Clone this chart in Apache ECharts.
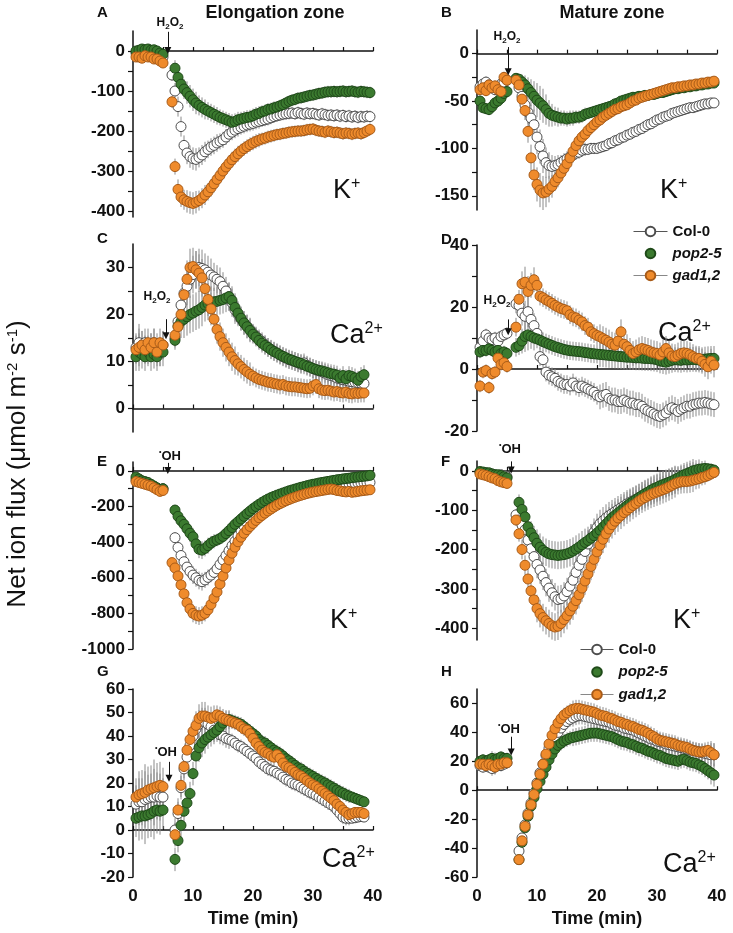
<!DOCTYPE html>
<html><head><meta charset="utf-8">
<script src="https://cdn.jsdelivr.net/npm/echarts@6/dist/echarts.min.js"></script>
<style>html,body{margin:0;padding:0;background:#fff}#c{width:733px;height:933px}</style>
</head><body><div id="c"></div>
<script>
// ---------- time axis (min) ----------
const minutes = [0.5,1,1.5,2,2.5,3,3.5,4,4.5,5,
 6.5,7,7.5,8,8.5,9,9.5,10,10.5,11,11.5,12,12.5,13,13.5,14,14.5,15,15.5,16,16.5,17,17.5,18,18.5,19,19.5,20,20.5,21,21.5,22,22.5,23,23.5,24,24.5,25,25.5,26,26.5,27,27.5,28,28.5,29,29.5,30,30.5,31,31.5,32,32.5,33,33.5,34,34.5,35,35.5,36,36.5,37,37.5,38,38.5,39,39.5];
const seriesNames = ['Col-0','pop2-5','gad1,2'];

// ---------- A: elongation zone, K+, H2O2 ----------
const A_col = [-5,-3,0,2,0,-3,-5,-8,-12,-15,
 -60,-100,-139,-189,-236,-255,-264,-269,-271,-266,-260,-252,-246,-240,-236,-230,-226,-222,-215,-208,-203,-198,-194,-191,-188,-185,-183,-181,-178,-176,-174,-172,-170,-167,-164,-162,-160,-158,-157,-156,-155,-157,-154,-156,-158,-155,-157,-156,-158,-160,-157,-159,-161,-160,-162,-160,-163,-161,-164,-162,-165,-163,-166,-164,-165,-163,-164];
const A_pop = [0,2,5,3,5,2,3,0,-5,-8,
 null,-43,-66,-83,-95,-104,-113,-122,-130,-136,-141,-146,-150,-154,-158,-162,-166,-169,-172,-175,-178,-176,-172,-170,-168,-166,-165,-162,-158,-156,-152,-150,-146,-145,-142,-140,-137,-134,-130,-126,-123,-121,-118,-117,-115,-113,-111,-110,-108,-106,-105,-103,-102,-102,-101,-102,-101,-100,-102,-101,-100,-102,-103,-101,-102,-103,-104];
const A_gad = [-15,-15,-18,-12,-15,-15,-20,-20,-25,-30,
 -127,-289,-346,-365,-372,-376,-379,-381,-378,-374,-368,-360,-352,-342,-332,-321,-311,-300,-290,-281,-272,-264,-257,-250,-244,-239,-234,-230,-226,-223,-220,-218,-215,-213,-211,-209,-208,-206,-205,-203,-202,-201,-200,-200,-199,-197,-196,-195,-198,-200,-201,-203,-200,-202,-204,-203,-205,-207,-205,-206,-208,-206,-205,-207,-204,-200,-196];
const A_err = [8,10,10,8,10,10,8,10,8,8,
 15,20,25,25,25,28,28,28,28,25,25,25,22,22,22,22,20,20,20,20,20,20,20,18,18,18,18,18,18,18,16,16,16,16,16,15,15,15,15,15,15,15,15,15,15,15,15,15,15,15,15,15,15,15,15,15,15,15,15,15,15,15,15,15,15,15,15];

// ---------- B: mature zone, K+, H2O2 ----------
const B_col = [-35,-32,-30,-33,-36,-38,-35,-32,-30,-28,
 null,-36,-45,-54,-62,-68,-75,-88,-98,-108,-115,-118,-119,-118,-117,-115,-113,-111,-109,-107,-105,-104,-102,-101,-101,-100,-100,-100,-99,-98,-97,-95,-94,-92,-91,-89,-88,-86,-85,-83,-82,-80,-79,-77,-75,-74,-72,-70,-69,-67,-66,-65,-63,-62,-61,-60,-59,-58,-57,-57,-56,-55,-54,-53,-53,-52,-52];
const B_pop = [-50,-57,-58,-59,-56,-52,-50,-47,-42,-40,
 -26,-27,-30,-33,-37,-41,-45,-49,-52,-55,-59,-63,-65,-66,-67,-68,-68,-69,-68,-68,-67,-67,-66,-64,-63,-62,-61,-60,-59,-58,-57,-56,-55,-53,-52,-50,-49,-48,-47,-46,-46,-45,-45,-44,-44,-43,-43,-42,-41,-41,-40,-39,-38,-37,-37,-36,-36,-35,-35,-34,-34,-33,-33,-32,-32,-31,-31];
const B_gad = [-38,-36,-39,-33,-36,-34,-38,-40,-25,-28,
 -28,-33,-48,-60,-82,-110,-128,-138,-144,-147,-146,-143,-140,-135,-131,-126,-121,-116,-110,-103,-97,-92,-88,-85,-81,-78,-75,-72,-70,-67,-65,-63,-61,-59,-58,-56,-55,-54,-52,-50,-49,-47,-46,-45,-44,-43,-42,-41,-40,-39,-38,-37,-36,-36,-35,-35,-34,-34,-33,-33,-32,-32,-31,-31,-30,-30,-29];
const B_err = [6,6,6,6,6,6,6,6,6,6,
 5,6,8,10,12,14,16,18,18,18,16,14,12,10,10,8,8,8,8,8,7,7,7,7,6,6,6,6,6,6,6,6,6,6,6,5,5,5,5,5,5,5,5,5,5,5,5,5,5,5,5,5,5,5,5,5,5,5,5,5,5,5,5,5,5,5,5];

// ---------- C: elongation zone, Ca2+, H2O2 ----------
const C_col = [13,14,13.5,14,12.5,13,14,13,12,13.5,
 null,15,18.5,22,24.5,26,27.5,28.5,29.5,30,29.8,29.5,29,28.4,28,27.5,27,26,25,23.8,22.5,21,20,19,18.2,17.5,16.8,16,15.4,14.8,14.2,13.6,13,12.6,12.2,11.8,11.4,11,10.7,10.4,10.2,10,9.7,9.4,9.7,9.2,8.8,8.5,8.2,8,7.8,7.5,7.2,7,6.8,6.5,6.3,6.1,6,5.8,5.7,5.6,5.5,5.4,5.3];
const C_pop = [11,12,11.5,11,12,11,11.5,11,12,12,
 null,14.5,17.5,18.5,19,19.5,20,20.3,20.7,21,21.5,22,22.3,22.5,22.7,22.8,23,23.2,23.5,23.8,23,21.5,20.3,19.2,18.2,17.4,16.6,15.8,15.2,14.5,13.9,13.4,13,12.5,12.1,11.8,11.4,11.1,10.8,10.5,10.3,10,9.8,9.6,9.3,9,8.8,8.5,8.3,8.1,8,7.8,7.6,7.4,7.3,7.1,6.5,7,6.3,7,6.8,6.5,6,6.8,7.2];
const C_gad = [12.5,13,13.5,12.5,14,13,14,12,14,13.5,
 null,15.6,17.4,20,24.2,27.5,30,30.2,29.5,28.8,27.8,25.5,23.2,21.2,19,16.8,15.3,14,13,12,11,10.2,9.5,8.9,8.3,7.8,7.3,6.9,6.5,6.2,6,5.8,5.6,5.5,5.3,5.2,5,5.1,4.8,4.7,4.6,4.6,4.5,4.4,4.3,4.2,4.3,4.8,5.1,4.2,3.9,3.8,3.9,3.7,3.5,3.6,3.4,3.3,3.5,3.2,3.1,3.3,3.2,3.3,3.3];
const C_err = [3,4,3,3,3,3,3,3,3,3,
 2,2,3,3.5,4,4,4,4,4,4,4,3.5,3.5,3.5,3,3,3,3,3,3,3,3,2.5,2.5,2.5,2.5,2.5,2,2,2,2,2,2,2,2,2,2,2,2,2,2,2,2,2,2,2,2,2,2,2,2,2,2,2,2,2,2,2,2,2,2,2,2,2,2];

// ---------- D: mature zone, Ca2+, H2O2 ----------
const D_col = [7,9,11,10,9.5,10,9,10.5,11,11.5,
 21,20.5,18,17,18.5,16,14,11.5,4,3,-1,-2,-2.5,-3,-4,-4.5,-5,-5,-5.5,-4.5,-5.5,-6,-5.5,-6,-6.5,-7,-7.5,-8.5,-9,-8.5,-8.2,-9.5,-10,-10,-10.5,-10.5,-10,-10.5,-11,-11,-11.5,-11.5,-12,-13,-13.5,-14,-14.5,-15,-15.3,-14.8,-14.2,-13,-12.5,-13,-13.7,-13,-12.5,-12,-12,-11.5,-11.3,-11,-11,-10.8,-11,-11.3,-11.5];
const D_pop = [5.5,6,6,6.5,6,5.5,6,5,5.5,5,
 7,7.5,9,10.5,11,10.5,10,9.7,9.3,8.8,8.4,8,7.6,7.2,6.9,6.6,6.3,6.1,5.9,5.8,5.7,5.6,5.5,5.3,5.2,5,4.9,4.8,4.7,4.6,4.5,4.4,4.3,4.2,4.1,4,3.9,3.8,3.8,3.7,3.6,3.6,3.5,3.4,3.4,3.3,3.2,3,2.6,2.4,2.2,2.5,2.8,3,2.9,2.8,3,2.9,3,3.1,3,2.9,3,3.2,3.3,3.4,3.4];
const D_gad = [-5.5,-1,-0.5,-6,-1.5,-1,3.5,1.5,2,0.8,
 13.5,22.5,27.5,28,25,27,28.8,27,23.5,23,22.3,21.8,21.2,20.5,20,19.5,19.2,18.8,17.5,16.8,16.5,15.8,15.2,14,13.5,12,11.4,10.8,10.4,9.8,9.3,8.7,8,7.7,9,12,8,7.2,6,5,5.5,6.2,6.6,6.3,6,5.5,5.2,5,4.5,5.5,6.6,5.2,4.2,4,4.5,5,5.2,5,4.6,4,3.5,3.4,2.5,1.5,0.7,2.5,1.3];
const D_err = [2,2,2,2,2,2,2,2,2,2,
 3,3,4,5,5,4,4,3,3,3,3,3,3,3,3,3,3,3,3,3,3,3,3,3,3,3,3,3,4,4,4,4,4,4,4,4,4,4,4,4,4,4,4,4,4,4,4,4,4,4,4,4,4,4,4,4,4,4,4,4,4,4,4,4,4,4,4];

// ---------- E: elongation zone, K+, .OH ----------
const E_col = [-50,-55,-60,-70,-75,-80,-90,-100,-105,-100,
 null,-375,-430,-475,-510,-540,-565,-585,-600,-615,-622,-612,-598,-585,-570,-550,-525,-500,-475,-448,-420,-395,-365,-335,-310,-290,-272,-257,-245,-233,-221,-208,-196,-184,-174,-163,-154,-146,-139,-132,-127,-122,-117,-112,-108,-104,-100,-96,-92,-88,-85,-82,-80,-78,-76,-75,-73,-72,-71,-70,-69,-68,-67,-66,-66,-65,-65];
const E_pop = [-35,-45,-55,-60,-65,-75,-85,-95,-105,-100,
 null,-220,-255,-280,-300,-325,-350,-370,-410,-440,-445,-435,-420,-405,-395,-388,-380,-368,-352,-336,-318,-300,-285,-270,-255,-240,-226,-212,-200,-188,-177,-167,-158,-150,-143,-136,-130,-124,-118,-112,-107,-102,-97,-92,-88,-83,-79,-75,-72,-68,-65,-62,-59,-56,-53,-50,-48,-45,-43,-41,-38,-36,-34,-32,-30,-28,-25];
const E_gad = [-60,-65,-70,-75,-80,-85,-95,-105,-115,-110,
 -515,-545,-590,-640,-690,-740,-775,-800,-810,-815,-810,-800,-780,-750,-715,-680,-635,-590,-545,-500,-462,-428,-398,-372,-350,-330,-312,-295,-278,-263,-250,-237,-225,-214,-203,-193,-184,-176,-168,-161,-154,-148,-142,-137,-132,-127,-123,-119,-116,-113,-110,-107,-104,-102,-105,-110,-112,-116,-118,-115,-120,-118,-115,-112,-110,-108,-106];
const E_err = [20,25,25,20,25,20,25,20,25,20,
 20,30,35,40,45,45,50,50,50,50,50,45,45,40,40,35,35,30,30,25,25,25,20,20,20,20,20,20,15,15,15,15,15,15,15,15,15,15,15,15,15,15,15,15,15,15,15,15,15,15,15,15,15,15,15,15,15,15,15,15,15,15,15,15,15,15,15];

// ---------- F: mature zone, K+, .OH ----------
const F_col = [-3,-5,-5,-8,-8,-10,-12,-10,-12,-15,
 -112,-125,-138,-150,-176,-198,-218,-238,-252,-268,-284,-298,-310,-320,-327,-325,-318,-307,-293,-278,-258,-240,-225,-205,-186,-170,-156,-144,-134,-127,-120,-114,-109,-104,-99,-94,-89,-84,-80,-76,-72,-68,-64,-60,-56,-52,-49,-45,-42,-37,-33,-30,-27,-24,-21,-18,-15,-12,-10,-8,-6,-5,-4,-3,-3,-3,-4];
const F_pop = [-2,-3,-5,-5,-8,-10,-10,-12,-15,-18,
 null,-80,-98,-117,-142,-158,-170,-184,-194,-202,-207,-211,-213,-214,-215,-214,-213,-211,-208,-204,-199,-194,-188,-182,-177,-171,-165,-158,-151,-143,-135,-127,-119,-113,-107,-101,-95,-89,-83,-78,-73,-68,-63,-58,-54,-49,-45,-42,-38,-35,-32,-29,-26,-22,-18,-14,-10,-7,-4,0,2,4,5,6,5,4,2];
const F_gad = [-8,-10,-12,-15,-18,-20,-25,-28,-30,-32,
 -125,-160,-200,-240,-275,-305,-328,-350,-363,-373,-381,-388,-394,-397,-395,-388,-378,-368,-356,-344,-330,-315,-298,-280,-262,-243,-225,-206,-189,-174,-160,-148,-137,-128,-120,-113,-106,-100,-94,-88,-83,-77,-72,-68,-64,-60,-57,-54,-51,-48,-45,-41,-37,-33,-30,-28,-27,-27,-26,-24,-22,-20,-17,-15,-12,-8,-4];
const F_err = [8,8,8,8,8,8,8,8,8,8,
 15,20,25,25,30,30,30,35,35,35,35,35,35,35,35,35,35,35,35,35,35,35,35,35,35,35,35,35,35,35,35,35,35,35,35,35,35,35,35,35,35,35,35,35,35,35,35,35,35,35,35,35,35,35,30,30,30,30,30,30,25,25,20,20,15,15,10];

// ---------- G: elongation zone, Ca2+, .OH ----------
const G_col = [11,12,12,13,13.5,14,14,14.5,14,14,
 null,0,7,18,26,31,36,40,43,45,46,46,45,44,42.5,41.5,40.5,40,39,38.5,38,37,36,35.5,34.5,33.5,32.5,31.5,30.5,29,28,27,26,25.5,25,24.2,23.5,22.5,21.5,21,20,19.5,19,18.2,17.5,16.8,16,15.5,14.8,14,13.2,12.4,11.6,10.8,10,8.5,7,5.5,5,5,5,5.2,5.5,5.7,5.5];
const G_pop = [5,5.5,6,6,6.5,7,8,8.5,8,8.5,
 null,-12.5,-4.5,2,8,11.5,15.5,24,31.5,35,37,38.5,39.5,40.5,41.5,42.5,44,45.5,46.5,47,46.5,46,45.5,45,44,43,42,41,40,38.5,37.5,37,36,35,34,33.3,32.5,31.5,30.3,29.5,28.5,27.5,26.5,26,25,24.2,23.5,22.8,22,21.3,20.6,20,19.2,18.5,17.8,17,16.3,15.7,15,14.5,14,13.5,13,12.5,12];
const G_gad = [14,15,15.5,16,17,17.5,18,18.5,19,18.5,
 null,-2,8.5,19,27,34,38.5,42,44.5,47.5,48.5,48.5,48,47.5,48,49,48.5,47.5,47,46.5,46,45.5,45,44,43,42.5,41,39,37,35.5,34,33,32.5,31.5,31,32,30.5,28.5,27,26.5,25.5,24.5,23.5,23,22,21,20,19.2,18.5,17.5,16.5,15.5,14.5,13.5,12.5,11,10,8.5,7.5,6.5,7,7.5,7.5,7.5,7];
const G_err = [8,10,10,12,10,10,12,10,10,8,
 5,5,5,5,5,5,5,5,6,6,6,6,5,5,5,4,4,4,4,4,3,3,3,3,3,3,3,3,3,3,3,3,3,3,3,3,3,3,3,3,3,3,3,3,3,3,3,3,3,3,3,3,3,3,3,3,3,3,3,3,2,2,2,2,2];

// ---------- H: mature zone, Ca2+, .OH ----------
const H_col = [17,16,17,16,15,16,17,17,18,19,
 null,-42,-33,-24,-16,-9,-2,5,12,18,24,29,33,37,40,43,45.5,47.5,49,50,51,51.5,51.5,51,50.5,50,49.5,49,48.5,48,47.5,47,46,45,44.5,44,43,42.5,42,41.5,40.5,39.5,38.5,37.5,36.5,35.5,35,34,33.5,33,32,31.5,31,30.5,30,29.5,29,28.5,28,27.5,27,26.5,26,25.5,25,24.5,24.5];
const H_pop = [20,21,20,21,22,21,22,23,22,22,
 null,-48,-36,-26,-18,-11,-5,1,6,11,16,21,25,28.5,31,32.5,34,35,36,36.5,37,37.5,38,38.5,39,39.5,39.5,39.5,39,38.5,38,37.5,37,36,35,34,33.5,33,32,31.5,30.5,29.5,29,28,27,26.5,25.5,24.5,24,23,22,21.5,21,20.5,20,21,21.5,20.5,19.5,19,18.5,17.5,16.5,15,13.5,12,10.5];
const H_gad = [18,18,17,18,17,16,18,18,19,19,
 null,-48,-35,-25,-17,-10,-3,4,11,18,25,32,38,42.5,46.5,49.5,52,53.5,55,56,56.5,56.5,56,55.5,55,54.5,54,53,52,51.5,51,50,49.5,48.5,47.5,47,46,45.5,44.5,44,43,42,41.5,40.5,39.5,38,37,35.5,34.5,34,33.5,33,32.5,32,31,30.5,30,29.5,28.5,27.5,27,26.5,26.5,27,27.5,26,24.5];
const H_err = [4,4,4,4,5,5,4,4,4,4,
 3,3,3,3,3,3,3,3,3,3,3,3,4,4,4,5,5,5,5,6,6,6,6,6,6,6,6,6,6,6,6,6,6,6,6,6,6,6,6,6,6,6,6,6,6,6,6,6,6,6,6,6,6,6,6,6,6,6,6,6,6,6,6,6,6,8,8];

// ---------- axis tick labels ----------
const A_labels = [0,-100,-200,-300,-400];
const B_labels = [0,-50,-100,-150];
const C_labels = [0,10,20,30];
const D_labels = [-20,0,20,40];
const E_labels = [0,-200,-400,-600,-800,-1000];
const F_labels = [0,-100,-200,-300,-400];
const G_labels = [-20,-10,0,10,20,30,40,50,60];
const H_labels = [-60,-40,-20,0,20,40,60];
const timeLabels = [0,10,20,30,40];

// ---------- layout / styling ----------
const FONT = "'Liberation Sans', Arial, Helvetica, sans-serif";
const INK = '#111';
const styles = [
  {color:'#ffffff', borderColor:'#4d4d4d', borderWidth:1},
  {color:'#3b7a2f', borderColor:'#1f4a19', borderWidth:1},
  {color:'#ef8b2c', borderColor:'#a85b18', borderWidth:1}
];
function halfSteps(labels){
  const s = labels.slice().sort((a,b)=>a-b); const out=[];
  for(let i=0;i<s.length;i++){ out.push(s[i]); if(i<s.length-1) out.push((s[i]+s[i+1])/2); }
  return out;
}
const panels = [
  {box:[133,31,240,186], min:-415, max:50, labels:A_labels, ticks:halfSteps(A_labels), data:[A_col,A_pop,A_gad], err:A_err, arrow:[5.8,48,1]},
  {box:[477,30,240,180], min:-165, max:25, labels:B_labels, ticks:halfSteps(B_labels), data:[B_col,B_pop,B_gad], err:B_err, arrow:[5.2,7,-19]},
  {box:[133,244,240,188], min:-5, max:35, labels:C_labels, ticks:halfSteps(C_labels), data:[C_col,C_pop,C_gad], err:C_err, arrow:[5.5,19,15.5]},
  {box:[477,245,240,186], min:-20, max:40, labels:D_labels, ticks:halfSteps(D_labels), data:[D_col,D_pop,D_gad], err:D_err, arrow:[5.2,16,12]},
  {box:[133,462,240,187], min:-1000, max:50, labels:E_labels, ticks:halfSteps(E_labels), data:[E_col,E_pop,E_gad], err:E_err, arrow:[5.8,45,2]},
  {box:[477,461,240,179], min:-430, max:25, labels:F_labels, ticks:halfSteps(F_labels), data:[F_col,F_pop,F_gad], err:F_err, arrow:[5.7,24,2]},
  {box:[133,689,240,188], min:-20, max:60, labels:G_labels, ticks:G_labels, data:[G_col,G_pop,G_gad], err:G_err, arrow:[6.0,29,22]},
  {box:[477,689,240,188], min:-60, max:70, labels:H_labels, ticks:H_labels, data:[H_col,H_pop,H_gad], err:H_err, arrow:[5.7,37,26.5]}
];

function errRender(params, api){
  const t = api.value(0), lo = api.value(1), hi = api.value(2);
  const a = api.coord([t, lo]), b = api.coord([t, hi]);
  return {type:'line', shape:{x1:a[0], y1:a[1], x2:b[0], y2:b[1]},
    style:{stroke:'#8a8a8a', lineWidth:1}, silent:true};
}

const grid=[], xAxis=[], yAxis=[], series=[];
panels.forEach((p,i)=>{
  grid.push({left:p.box[0], top:p.box[1], width:p.box[2], height:p.box[3], outerBoundsMode:'none', containLabel:false});
  xAxis.push({type:'value', gridIndex:i, min:0, max:40, interval:5, position:'bottom',
    axisLine:{show:true, onZero:true, lineStyle:{color:INK, width:1.5}},
    axisTick:{show:true, inside:true, length:4, lineStyle:{color:INK, width:1.2}},
    axisLabel:{show:false}, splitLine:{show:false}});
  yAxis.push({type:'value', gridIndex:i, min:p.min, max:p.max,
    axisLine:{show:true, onZero:false, lineStyle:{color:INK, width:1.5}},
    axisTick:{show:true, length:5, customValues:p.ticks, lineStyle:{color:INK, width:1.2}},
    axisLabel:{show:true, customValues:p.labels, formatter:(v)=>String(v), fontFamily:FONT, fontWeight:'bold', fontSize:17, color:INK, margin:8},
    splitLine:{show:false}});
  // error bars (behind the markers)
  p.data.forEach((vals,k)=>{
    const rows = [];
    vals.forEach((v,j)=>{ if(v!=null && j<p.err.length) rows.push([minutes[j], v-p.err[j], v+p.err[j]]); });
    series.push({type:'custom', xAxisIndex:i, yAxisIndex:i, data:rows, renderItem:errRender,
      silent:true, animation:false, clip:false, z:1});
  });
  p.data.forEach((vals,k)=>{
    const s = {type:'line', name:seriesNames[k], xAxisIndex:i, yAxisIndex:i,
      data: vals.map((v,j)=>[minutes[j], v==null?'-':v]),
      symbol:'circle', symbolSize:10, showSymbol:true, showAllSymbol:true,
      lineStyle:{opacity:0, width:0}, itemStyle:styles[k],
      emphasis:{disabled:true}, silent:true, animation:false, clip:false, z:2+k};
    if(k===2){
      s.markLine = {silent:true, animation:false, symbol:['none','triangle'], symbolSize:7,
        lineStyle:{color:INK, width:1, type:'solid'}, label:{show:false}, emphasis:{disabled:true},
        data:[[{coord:[p.arrow[0],p.arrow[1]]},{coord:[p.arrow[0],p.arrow[2]]}]]};
    }
    series.push(s);
  });
});
[6,7].forEach(i=>{
  xAxis.push({type:'value', gridIndex:i, min:0, max:40, interval:10, position:'bottom',
    axisLine:{show:false, onZero:false}, axisTick:{show:false}, splitLine:{show:false},
    axisLabel:{customValues:timeLabels, fontFamily:FONT, fontWeight:'bold', fontSize:17, color:INK, margin:11},
    name:'Time (min)', nameLocation:'middle', nameGap:33,
    nameTextStyle:{fontFamily:FONT, fontWeight:'bold', fontSize:18, color:INK}});
});

const legendItems = [
  {name:'Col-0', lineStyle:{color:'#555', width:1, opacity:1}},
  {name:'pop2-5', lineStyle:{opacity:0, width:0}, textStyle:{fontStyle:'italic'}},
  {name:'gad1,2', lineStyle:{color:'#888', width:1, opacity:1}, textStyle:{fontStyle:'italic'}}
];
const legendBase = {orient:'vertical', itemHeight:12, itemGap:7, selectedMode:false,
  textStyle:{fontFamily:FONT, fontWeight:'bold', fontSize:15, color:INK}, data:legendItems};

// ---------- text annotations ----------
const sup = s => ({fontFamily:FONT, fontSize:s, verticalAlign:'top', fill:INK});
function T(x,y,text,font,align){
  return {type:'text', x:x, y:y, silent:true,
    style:{text:text, font:font, fill:INK, textAlign:align||'left', textVerticalAlign:'middle'}};
}
const ion = (x,y,isK)=>({type:'text', x:x, y:y, silent:true,
  style:{text:isK?'{b|K}{s|+}':'{b|Ca}{s|2+}', fill:INK, textAlign:'left', textVerticalAlign:'middle',
   rich:{b:{fontFamily:FONT, fontSize:27, lineHeight:30, fill:INK}, s:sup(16)}}});
const h2o2 = (x,y)=>({type:'text', x:x, y:y, silent:true, style:{text:'{t|H}{u|2}{t|O}{u|2}', fill:INK, textAlign:'center', textVerticalAlign:'middle',
   rich:{t:{fontFamily:FONT, fontWeight:'bold', fontSize:12, lineHeight:15, fill:INK}, u:{fontFamily:FONT, fontWeight:'bold', fontSize:8, verticalAlign:'bottom', fill:INK}}}});
const oh = (x,y)=>({type:'text', x:x, y:y, silent:true, style:{text:'{d|•}{t|OH}', fill:INK, textAlign:'center', textVerticalAlign:'middle',
   rich:{t:{fontFamily:FONT, fontWeight:'bold', fontSize:13, lineHeight:15, fill:INK}, d:{fontFamily:FONT, fontWeight:'bold', fontSize:7, verticalAlign:'top', fill:INK}}}});

const graphic = [
  T(275,13,'Elongation zone','bold 18px '+FONT,'center'),
  T(612,13,'Mature zone','bold 18px '+FONT,'center'),
  T(97,13,'A','bold 15px '+FONT), T(441,13,'B','bold 15px '+FONT),
  T(97,239,'C','bold 15px '+FONT), T(441,240,'D','bold 15px '+FONT),
  T(97,462,'E','bold 15px '+FONT), T(441,462,'F','bold 15px '+FONT),
  T(97,672,'G','bold 15px '+FONT), T(441,672,'H','bold 15px '+FONT),
  ion(333,191,true), ion(660,191,true),
  ion(330,336,false), ion(658,334,false),
  ion(330,621,true), ion(673,621,true),
  ion(322,860,false), ion(663,865,false),
  h2o2(170,23), h2o2(507,37), h2o2(157,297), h2o2(497,301),
  oh(170,456), oh(510,449), oh(166,752), oh(509,729),
  {type:'text', x:18, y:464, rotation:Math.PI/2, silent:true,
   style:{text:'Net ion flux (μmol m{s|-2} s{s|-1})', font:'26px '+FONT, fill:INK, textAlign:'center', textVerticalAlign:'middle',
   rich:{s:{fontFamily:FONT, fontSize:15, verticalAlign:'top', fill:INK}}}}
];

const chart = echarts.init(document.getElementById('c'), null, {renderer:'canvas'});
chart.setOption({
  animation:false, backgroundColor:'#fff',
  grid, xAxis, yAxis, series,
  legend:[Object.assign({left:628, top:219, itemWidth:34}, legendBase),
          Object.assign({left:575, top:637, itemWidth:33}, legendBase, {itemGap:7.5})],
  graphic
});
</script></body></html>
